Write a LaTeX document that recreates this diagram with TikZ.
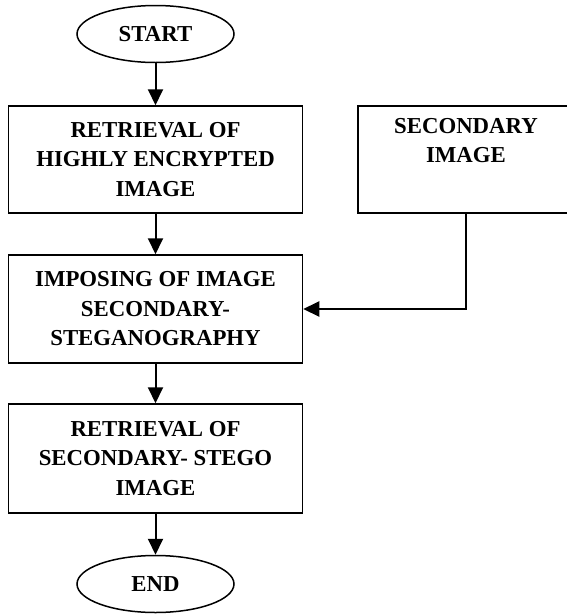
\documentclass[tikz,border=0pt]{standalone}
\usepackage{fontspec}
\setmainfont{Liberation Serif}
\usetikzlibrary{arrows.meta,shapes.geometric}
\begin{document}
\begin{tikzpicture}[x=1pt,y=-1pt,
  txt/.style={font=\bfseries\fontsize{22.8}{29.5}\selectfont},
  box/.style={draw, line width=1.5pt, minimum width=294pt, minimum height=107pt, align=center, inner sep=0pt, txt},
  term/.style={draw, ellipse, line width=1.5pt, minimum width=157pt, minimum height=57pt, inner sep=0pt, txt},
  arr/.style={line width=2pt, -{Triangle[length=16pt,width=15pt]}}]
\useasboundingbox (0,0) rectangle (567,614);
\clip (0,0) rectangle (567,614);
\node[term] (start) at (155.5,34) {START};
\node[box] (b1) at (155.5,159.5) {RETRIEVAL OF\\HIGHLY ENCRYPTED\\IMAGE};
\node[box, minimum width=216pt] (sec) at (466,159.5) {SECONDARY\\IMAGE\\\strut};
\node[box, minimum height=108pt] (b2) at (155.5,309) {IMPOSING OF IMAGE\\SECONDARY-\\STEGANOGRAPHY};
\node[box, minimum height=109pt] (b3) at (155.5,458.5) {RETRIEVAL OF\\SECONDARY- STEGO\\IMAGE};
\node[term] (end) at (155.5,584) {END};
\draw[arr] (start) -- (b1);
\draw[arr] (b1) -- (b2);
\draw[arr] (b2) -- (b3);
\draw[arr] (b3) -- (end);
\draw[arr] (sec.south) |- (b2.east);
\end{tikzpicture}
\end{document}
